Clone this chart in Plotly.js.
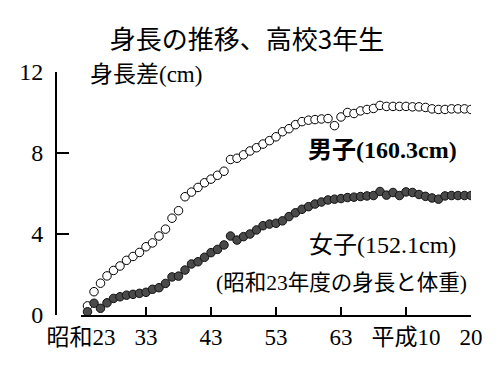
<!DOCTYPE html>
<html>
<head>
<meta charset="utf-8">
<script src="https://cdn.plot.ly/plotly-3.0.1.min.js"></script>
<style>html,body{margin:0;padding:0;background:#fff;}#chart{width:500px;height:375px;}</style>
</head>
<body>
<div id="chart"></div>
<script>
const years = [1949,1950,1951,1952,1953,1954,1955,1956,1957,1958,
  1959,1960,1961,1962,1963,1964,1965,1966,1967,1968,
  1969,1970,1971,1972,1973,1974,1975,1976,1977,1978,
  1979,1980,1981,1982,1983,1984,1985,1986,1987,1988,
  1989,1990,1991,1992,1993,1994,1995,1996,1997,1998,
  1999,2000,2001,2002,2003,2004,2005,2006,2007,2008];
const boys = [0.45,1.15,1.57,1.93,2.2,2.42,2.7,2.89,3.09,3.37,
  3.56,3.9,4.24,4.78,5.15,5.84,6.07,6.3,6.53,6.71,
  6.9,7.1,7.68,7.74,7.91,8.1,8.26,8.44,8.61,8.8,
  9.05,9.2,9.4,9.55,9.62,9.65,9.68,9.7,9.35,9.78,
  10.0,9.95,10.08,10.15,10.2,10.35,10.3,10.3,10.3,10.3,
  10.28,10.28,10.25,10.18,10.15,10.15,10.18,10.18,10.18,10.15];
const girls = [0.16,0.58,0.33,0.6,0.82,0.9,0.98,1.02,1.07,1.12,
  1.27,1.35,1.56,1.88,1.92,2.22,2.52,2.63,2.85,3.08,
  3.24,3.46,3.9,3.7,3.87,4.0,4.2,4.41,4.49,4.53,
  4.65,4.86,5.05,5.22,5.35,5.48,5.58,5.68,5.72,5.75,
  5.8,5.82,5.85,5.88,5.9,6.1,5.92,6.05,5.9,6.08,
  6.05,5.95,5.86,5.78,5.72,5.88,5.9,5.9,5.9,5.9];
const xTickVals = [1948,1958,1968,1978,1988,1998,2008];
const xTickText = ['昭和23','33','43','53','63','平成10','20'];
const yTickVals = [0,4,8,12];
const titleText = '身長の推移、高校3年生';
const yTitleText = '身長差(cm)';
const boysLabel = '男子(160.3cm)';
const girlsLabel = '女子(152.1cm)';
const noteText = '(昭和23年度の身長と体重)';

const serif = 'Liberation Serif, DejaVu Serif, Noto Sans CJK JP, serif';
const sans = 'Noto Sans CJK JP, sans-serif';

const traces = [
  {x: years, y: boys, type: 'scatter', mode: 'markers', name: '男子',
   marker: {symbol: 'circle', size: 8.5, color: '#ffffff', line: {color: '#000', width: 1}}},
  {x: years, y: girls, type: 'scatter', mode: 'markers', name: '女子',
   marker: {symbol: 'circle', size: 8.5, color: '#4a4a4a', line: {color: '#111', width: 1}}}
];

const layout = {
  width: 500, height: 375,
  margin: {l: 56, r: 29, t: 72, b: 60},
  font: {family: serif, size: 22, color: '#000'},
  paper_bgcolor: '#fff', plot_bgcolor: '#fff',
  showlegend: false,
  title: {text: titleText, font: {family: sans, size: 26, color: '#000'},
          x: 0.494, xanchor: 'center', y: 0.893, yanchor: 'middle'},
  xaxis: {domain: [25/415, 1], range: [1948, 2008], showgrid: false, zeroline: false,
          showline: true, linecolor: '#000', linewidth: 2,
          ticks: 'inside', ticklen: 8, tickwidth: 1.5, tickcolor: '#000',
          tickvals: xTickVals, ticktext: xTickText,
          tickfont: {family: serif, size: 23, color: '#000'}},
  yaxis: {range: [0, 12], anchor: 'free', position: 0, showgrid: false, zeroline: false,
          showline: true, linecolor: '#000', linewidth: 2,
          ticks: 'inside', ticklen: 12, tickwidth: 2, tickcolor: '#000',
          tickvals: yTickVals, ticklabelstandoff: 7,
          tickfont: {family: serif, size: 24, color: '#000'}},
  annotations: [
    {text: yTitleText, xref: 'paper', yref: 'paper', x: 0.077, y: 0.99, xanchor: 'left', yanchor: 'middle',
     showarrow: false, font: {family: serif, size: 23, color: '#000'}},
    {text: '<b>' + boysLabel + '</b>', xref: 'paper', yref: 'paper', x: 0.786, y: 0.679, xanchor: 'center', yanchor: 'middle',
     showarrow: false, font: {family: serif, size: 24, color: '#000'}},
    {text: girlsLabel, xref: 'paper', yref: 'paper', x: 0.786, y: 0.288, xanchor: 'center', yanchor: 'middle',
     showarrow: false, font: {family: serif, size: 24, color: '#000'}},
    {text: noteText, xref: 'paper', yref: 'paper', x: 0.687, y: 0.132, xanchor: 'center', yanchor: 'middle',
     showarrow: false, font: {family: serif, size: 21.5, color: '#000'}}
  ]
};

Plotly.newPlot('chart', traces, layout, {staticPlot: true, displayModeBar: false});
</script>
</body>
</html>
